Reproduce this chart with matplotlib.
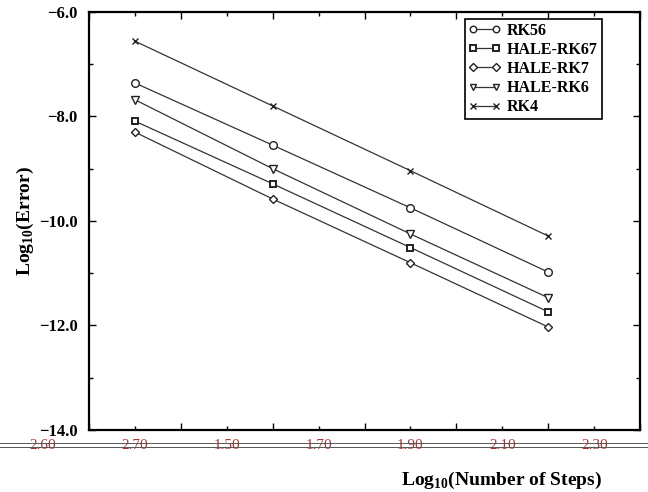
import matplotlib
matplotlib.use("Agg")
import matplotlib.pyplot as plt
import numpy as np
from matplotlib.ticker import MultipleLocator, FuncFormatter

# data
log_steps = [1.5, 1.8, 2.1, 2.4]
rk56 = [-7.36, -8.55, -9.75, -10.98]
hale_rk67 = [-8.09, -9.29, -10.51, -11.74]
hale_rk7 = [-8.30, -9.58, -10.80, -12.03]
hale_rk6 = [-7.68, -9.00, -10.25, -11.47]
rk4 = [-6.56, -7.80, -9.04, -10.29]

# garbled x tick labels as they appear under the axis
xlab_pos = [1.3, 1.5, 1.7, 1.9, 2.1, 2.3, 2.5]
xlab_txt = ['2.60', '2.70', '1.50', '1.70', '1.90', '2.10', '2.30']

plt.rcParams['font.family'] = ['Liberation Serif', 'DejaVu Serif']
plt.rcParams['font.weight'] = 'bold'
plt.rcParams['mathtext.fontset'] = 'custom'
plt.rcParams['mathtext.bf'] = 'Liberation Serif:bold'
plt.rcParams['mathtext.rm'] = 'Liberation Serif:bold'

fig = plt.figure(figsize=(6.48, 4.92), dpi=100)
ax = fig.add_axes([0.137, 0.126, 0.851, 0.850])

lc = '#333333'
kw = dict(color=lc, lw=0.9, mfc='white', mec='#222222', ms=5.5, mew=1.0)
ax.plot(log_steps, rk56, marker='o', label='RK56', **kw)
ax.plot(log_steps, hale_rk67, marker='s', label='HALE-RK67', **dict(kw, ms=5, mew=1.4))
ax.plot(log_steps, hale_rk7, marker='D', label='HALE-RK7', **dict(kw, ms=4.5))
ax.plot(log_steps, hale_rk6, marker='v', label='HALE-RK6', **kw)
ax.plot(log_steps, rk4, marker='x', label='RK4', **dict(kw, ms=5))

ax.set_xlim(1.4, 2.6)
ax.set_ylim(-14, -6)
ax.yaxis.set_major_locator(MultipleLocator(2))
ax.yaxis.set_minor_locator(MultipleLocator(1))
ax.yaxis.set_major_formatter(FuncFormatter(lambda v, p: ('%.1f' % v).replace('-', '\u2212')))
ax.xaxis.set_major_locator(MultipleLocator(0.2))
ax.xaxis.set_minor_locator(MultipleLocator(0.1))
ax.tick_params(which='both', direction='in', top=True, right=True)
ax.tick_params(which='major', length=5, width=1)
ax.tick_params(which='minor', length=3, width=1)
ax.tick_params(axis='y', labelsize=12, pad=8)
ax.tick_params(axis='x', labelbottom=False)
for s in ax.spines.values():
    s.set_linewidth(1.6)

# labels under the x axis
for p, t in zip(xlab_pos, xlab_txt):
    ax.text(p, -14.3, t, ha='center', va='center', fontsize=11,
            color='#a83838', fontweight='normal', clip_on=False)
for yy in (0.099, 0.092):
    fig.add_artist(plt.Line2D([0.0, 1.0], [yy, yy], color='#555555', lw=0.7))

ax.set_ylabel(r'Log$_{\mathbf{10}}$(Error)', fontsize=14, fontweight='bold')
ax.yaxis.set_label_coords(-0.095, 0.5)
ax.set_xlabel(r'Log$_{\mathbf{10}}$(Number of Steps)', fontsize=14, fontweight='bold')
ax.xaxis.set_label_coords(0.748, -0.095)

leg = ax.legend(loc='upper right', bbox_to_anchor=(0.945, 1.003), numpoints=2,
                fancybox=False, edgecolor='black', framealpha=1,
                fontsize=11.5, handlelength=2.0, labelspacing=0.2,
                borderpad=0.25, handletextpad=0.4, markerscale=0.85)
leg.get_frame().set_linewidth(1.2)

fig.savefig('out.png', dpi=100)
